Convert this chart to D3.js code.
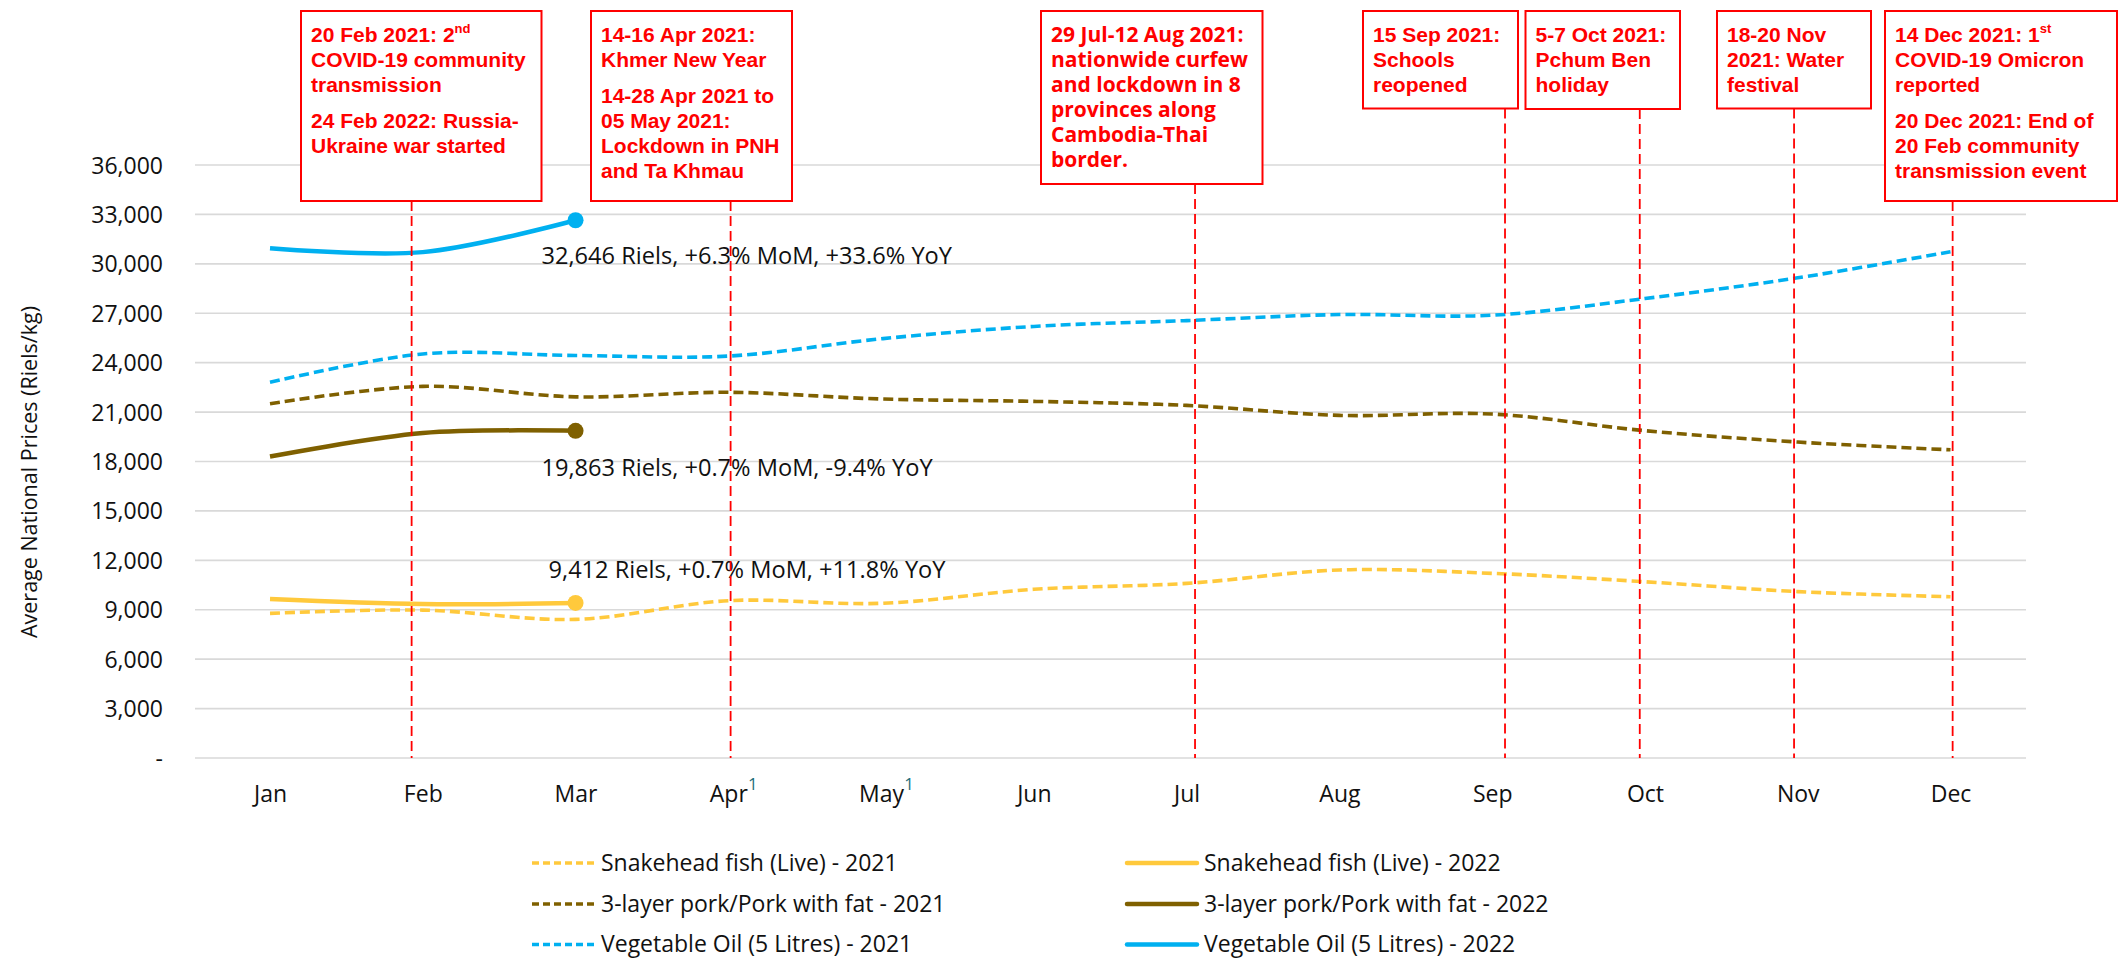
<!DOCTYPE html>
<html><head><meta charset="utf-8">
<script src="https://cdn.jsdelivr.net/npm/d3@7"></script>
<style>body{margin:0;background:#fff}svg{display:block}</style>
</head><body>
<svg id="chart" width="2125" height="958"></svg>
<script>
// ---------- DATA ----------
const months = ["Jan","Feb","Mar","Apr","May","Jun","Jul","Aug","Sep","Oct","Nov","Dec"];
const monthNotes = ["","","","1","1","","","","","","",""];
const yTicks = [0,3000,6000,9000,12000,15000,18000,21000,24000,27000,30000,33000,36000];

const snakehead2021 = [8780, 8980, 8415, 9550, 9390, 10240, 10600, 11415, 11210, 10700, 10100, 9790];
const snakehead2022 = [9650, 9346, 9412];
const pork2021 = [21510, 22560, 21924, 22200, 21795, 21650, 21405, 20800, 20880, 19870, 19180, 18710];
const pork2022 = [18300, 19725, 19863];
const oil2021 = [22805, 24530, 24436, 24400, 25450, 26200, 26555, 26920, 26880, 27895, 29150, 30735];
const oil2022 = [30950, 30711, 32646];

const seriesNames = [
  "Snakehead fish (Live) - 2021","Snakehead fish (Live) - 2022",
  "3-layer pork/Pork with fat - 2021","3-layer pork/Pork with fat - 2022",
  "Vegetable Oil (5 Litres) - 2021","Vegetable Oil (5 Litres) - 2022"
];
const endLabels = [
  "9,412 Riels, +0.7% MoM, +11.8% YoY",
  "19,863 Riels, +0.7% MoM, -9.4% YoY",
  "32,646 Riels, +6.3% MoM, +33.6% YoY"
];
const yTitle = "Average National Prices (Riels/kg)";

// event positions in month-index units (0 = Jan)
const eventPos = [0.927, 3.015, 6.055, 8.084, 8.966, 9.976, 11.014];
const eventTexts = [
  [["20 Feb 2021: 2^nd","COVID-19 community","transmission"],["24 Feb 2022: Russia-","Ukraine war started"]],
  [["14-16 Apr 2021:","Khmer New Year"],["14-28 Apr 2021 to","05 May 2021:","Lockdown in PNH","and Ta Khmau"]],
  [["29 Jul-12 Aug 2021:","nationwide curfew","and lockdown in 8","provinces along","Cambodia-Thai","border."]],
  [["15 Sep 2021:","Schools","reopened"]],
  [["5-7 Oct 2021:","Pchum Ben","holiday"]],
  [["18-20 Nov","2021: Water","festival"]],
  [["14 Dec 2021: 1^st","COVID-19 Omicron","reported"],["20 Dec 2021: End of","20 Feb community","transmission event"]]
];

// ---------- LAYOUT / STYLE ----------
const colors = {fish:"#FFC93C", pork:"#7F6000", oil:"#00B0F0", red:"#FF0000"};
const boxLayout = [
  {x0:301, x1:541.5, y1:201, font:"Liberation Sans, Arial, sans-serif"},
  {x0:591, x1:792, y1:201, font:"Liberation Sans, Arial, sans-serif"},
  {x0:1041, x1:1262.5, y1:184, font:"Open Sans, sans-serif"},
  {x0:1363, x1:1518, y1:108.5, font:"Liberation Sans, Arial, sans-serif"},
  {x0:1525.5, x1:1680, y1:109, font:"Liberation Sans, Arial, sans-serif"},
  {x0:1717, x1:1871, y1:108.5, font:"Liberation Sans, Arial, sans-serif"},
  {x0:1885, x1:2117, y1:201, font:"Liberation Sans, Arial, sans-serif"}
];
const boxTop = 11;

const svg = d3.select("#chart");
const x = d3.scalePoint().domain(months).range([270, 1950.5]);
const step = x.step();
const xIdx = i => x(months[0]) + i*step;
const y = d3.scaleLinear().domain([0,36000]).range([758,165]);
const gridX0 = 195, gridX1 = 2026;

// gridlines
svg.append("g").selectAll("line").data(yTicks).join("line")
  .attr("x1",gridX0).attr("x2",gridX1)
  .attr("y1",d=>y(d)).attr("y2",d=>y(d))
  .attr("stroke","#d9d9d9").attr("stroke-width",1.6);

// y axis labels
const yAxis = d3.axisLeft(y).tickValues(yTicks).tickSize(0).tickPadding(0)
  .tickFormat(d => d===0 ? "-" : d3.format(",")(d));
const gy = svg.append("g").attr("transform","translate(163,0)").call(yAxis);
gy.select(".domain").remove();
gy.selectAll("text").attr("font-family","Open Sans, sans-serif").attr("font-size",23).attr("fill","#111").attr("dy","0.35em");

// x axis labels
const xAxis = d3.axisBottom(x).tickSize(0).tickPadding(0);
const gx = svg.append("g").attr("transform","translate(0,802)").call(xAxis);
gx.select(".domain").remove();
gx.selectAll("text").attr("font-family","Open Sans, sans-serif").attr("font-size",23).attr("fill","#111").attr("dy",0);
gx.selectAll(".tick").each(function(d,i){
  if(monthNotes[i]){
    const t = d3.select(this).select("text");
    const w = t.node().getComputedTextLength();
    d3.select(this).append("text").attr("x", w/2+5).attr("y",-12.5)
      .attr("font-family","Open Sans, sans-serif").attr("font-size",17).attr("fill","#1F6E7A")
      .text(monthNotes[i]);
  }
});

// y title
svg.append("text").attr("transform","translate(28,472) rotate(-90)")
  .attr("text-anchor","middle").attr("dominant-baseline","central")
  .attr("font-family","Open Sans, sans-serif").attr("font-size",21.5).attr("fill","#111")
  .text(yTitle);

// series
const line = d3.line().x((d,i)=>x(months[i])).y(d=>y(d)).curve(d3.curveCatmullRom.alpha(0.5));
const series = [
  {vals:snakehead2021, color:colors.fish, dash:true},
  {vals:pork2021, color:colors.pork, dash:true},
  {vals:oil2021, color:colors.oil, dash:true},
  {vals:snakehead2022, color:colors.fish, dash:false},
  {vals:pork2022, color:colors.pork, dash:false},
  {vals:oil2022, color:colors.oil, dash:false}
];
svg.append("g").selectAll("path").data(series).join("path")
  .attr("d",d=>line(d.vals)).attr("fill","none")
  .attr("stroke",d=>d.color)
  .attr("stroke-width",d=>d.dash?3.6:4.5)
  .attr("stroke-dasharray",d=>d.dash?"10,5":null);

// end markers
const ends = [snakehead2022, pork2022, oil2022];
const endColors = [colors.fish, colors.pork, colors.oil];
svg.append("g").selectAll("circle").data(ends).join("circle")
  .attr("cx",d=>x(months[d.length-1])).attr("cy",d=>y(d[d.length-1]))
  .attr("r",8).attr("fill",(d,i)=>endColors[i]);

// end labels
const labelOff = [{dx:-27, dy:-25},{dx:-34, dy:45},{dx:-34, dy:44}];
svg.append("g").selectAll("text").data(endLabels).join("text")
  .attr("x",(d,i)=>x(months[ends[i].length-1])+labelOff[i].dx)
  .attr("y",(d,i)=>y(ends[i][ends[i].length-1])+labelOff[i].dy)
  .attr("font-family","Open Sans, sans-serif").attr("font-size",23.6).attr("fill","#111")
  .text(d=>d);

// event lines
svg.append("g").selectAll("line").data(eventPos).join("line")
  .attr("x1",d=>xIdx(d)).attr("x2",d=>xIdx(d))
  .attr("y1",(d,i)=>boxLayout[i].y1).attr("y2",y(0))
  .attr("stroke",colors.red).attr("stroke-width",1.8).attr("stroke-dasharray","10,5");

// event boxes
const gb = svg.append("g");
eventTexts.forEach((paras,i)=>{
  const L = boxLayout[i];
  gb.append("rect").attr("x",L.x0).attr("y",boxTop).attr("width",L.x1-L.x0).attr("height",L.y1-boxTop)
    .attr("fill","#fff").attr("stroke",colors.red).attr("stroke-width",2);
  let by = boxTop + 30.5;
  paras.forEach((lines,pi)=>{
    if(pi>0) by += 11.5;
    lines.forEach(ln=>{
      const t = gb.append("text").attr("x",L.x0+10).attr("y",by)
        .attr("font-family",L.font).attr("font-weight","bold").attr("font-size",21).attr("fill",colors.red);
      const parts = ln.split("^");
      t.append("tspan").text(parts[0]);
      if(parts[1]) t.append("tspan").attr("font-size",13).attr("dy",-9).text(parts[1]);
      by += 25;
    });
  });
});

// legend
const legendRows = [863, 904, 944.5];
const legendCols = [{x0:532, x1:594}, {x0:1127, x1:1197}];
const legColors = [colors.fish, colors.fish, colors.pork, colors.pork, colors.oil, colors.oil];
const lg = svg.append("g");
seriesNames.forEach((name,i)=>{
  const r = Math.floor(i/2), c = i%2;
  const ly = legendRows[r], C = legendCols[c];
  lg.append("line").attr("x1",C.x0).attr("x2",C.x1).attr("y1",ly).attr("y2",ly)
    .attr("stroke",legColors[i]).attr("stroke-width",c===0?3.6:4.5)
    .attr("stroke-dasharray",c===0?"7,4":null)
    .attr("stroke-linecap",c===0?null:"round");
  lg.append("text").attr("x",C.x1+7).attr("y",ly).attr("dy","0.34em")
    .attr("font-family","Open Sans, sans-serif").attr("font-size",23).attr("fill","#111")
    .text(name);
});
</script>
</body></html>
